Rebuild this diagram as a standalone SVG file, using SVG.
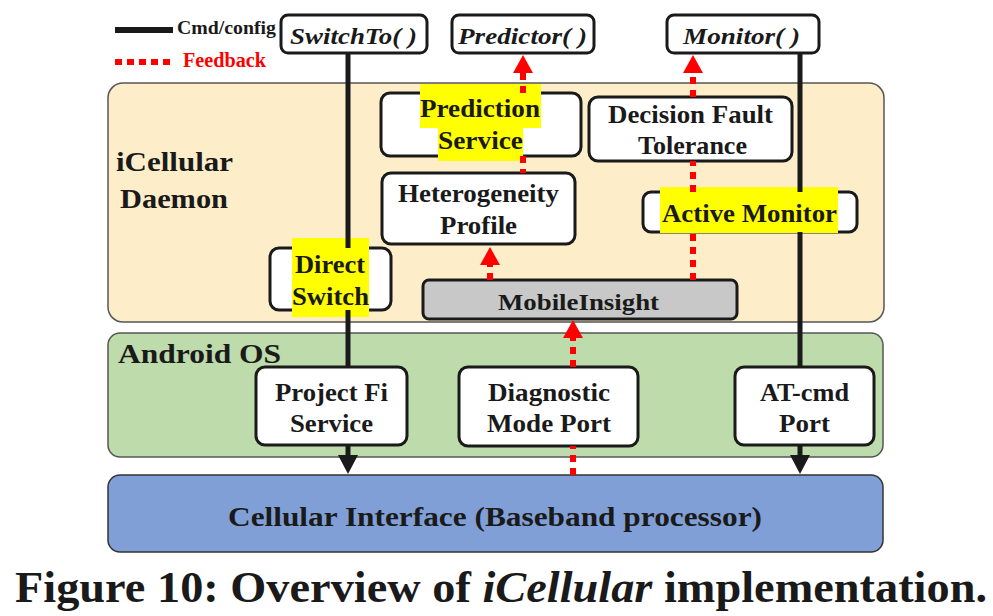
<svg xmlns="http://www.w3.org/2000/svg" width="993" height="616" viewBox="0 0 993 616">
<defs>
<style>
.t{font-family:'Liberation Serif','Times New Roman',Times,serif;font-weight:700;fill:#1a1a1a}
.ti{font-family:'Liberation Serif','Times New Roman',Times,serif;font-weight:700;font-style:italic;fill:#1a1a1a}
.lbl{font-size:25px}
.box{fill:#ffffff;stroke:#1a1a1a;stroke-width:3}
.hl{fill:#ffff00}
.cmd{fill:none;stroke:#1a1a1a;stroke-width:5}
.fb{fill:none;stroke:#ff0000;stroke-width:6;stroke-dasharray:7 6}
</style>
<marker id="ab" markerUnits="userSpaceOnUse" viewBox="0 0 19 20" markerWidth="19" markerHeight="20" refX="0" refY="10" orient="auto">
<path d="M0,0 L19,10 L0,20 Z" fill="#1a1a1a"/>
</marker>
<marker id="ar" markerUnits="userSpaceOnUse" viewBox="0 0 18 20" markerWidth="18" markerHeight="20" refX="0" refY="10" orient="auto">
<path d="M0,0 L18,10 L0,20 Z" fill="#ff0000"/>
</marker>
</defs>
<rect width="993" height="616" fill="#ffffff"/>

<g id="legend">
<line x1="115" y1="30" x2="173" y2="30" stroke="#1a1a1a" stroke-width="6"/>
<text class="t" x="177" y="34" font-size="18" textLength="99" lengthAdjust="spacingAndGlyphs">Cmd/config</text>
<line x1="115" y1="62" x2="173" y2="62" stroke="#ff0000" stroke-width="6" stroke-dasharray="7 5"/>
<text class="t" x="183" y="67" font-size="20" style="fill:#ff0000" textLength="83" lengthAdjust="spacingAndGlyphs">Feedback</text>
</g>

<g id="daemon-panel">
<rect x="108" y="83" width="776" height="239" rx="15" fill="#fdedc8" stroke="#555555" stroke-width="1.5"/>
<text class="t" x="116" y="171" font-size="28" textLength="117" lengthAdjust="spacingAndGlyphs">iCellular</text>
<text class="t" x="120" y="208" font-size="28" textLength="108" lengthAdjust="spacingAndGlyphs">Daemon</text>
</g>

<g id="android-panel">
<rect x="108" y="333" width="775" height="124" rx="12" fill="#bddbab" stroke="#555555" stroke-width="1.5"/>
<text class="t" x="118" y="363" font-size="27" textLength="163" lengthAdjust="spacingAndGlyphs">Android OS</text>
</g>

<g id="cellular-interface">
<rect x="108" y="475" width="775" height="77" rx="12" fill="#809fd6" stroke="#333333" stroke-width="1.5"/>
<text class="t" x="228" y="526" font-size="28" textLength="534" lengthAdjust="spacingAndGlyphs">Cellular Interface (Baseband processor)</text>
</g>

<g id="switchto">
<rect class="box" x="281" y="15" width="146" height="38" rx="7"/>
<text class="ti" x="290" y="44" font-size="24" textLength="127" lengthAdjust="spacingAndGlyphs">SwitchTo( )</text>
</g>
<g id="predictor">
<rect class="box" x="452" y="15" width="142" height="38" rx="7"/>
<text class="ti" x="458" y="44" font-size="24" textLength="129" lengthAdjust="spacingAndGlyphs">Predictor( )</text>
</g>
<g id="monitor">
<rect class="box" x="667" y="15" width="152" height="38" rx="7"/>
<text class="ti" x="683" y="44" font-size="24" textLength="117" lengthAdjust="spacingAndGlyphs">Monitor( )</text>
</g>

<g id="prediction-service">
<rect class="box" x="381" y="93" width="200" height="63" rx="9"/>
<rect class="hl" x="420" y="84" width="121" height="44"/>
<rect class="hl" x="438" y="128" width="85" height="33"/>
<text class="t lbl" x="420" y="117" textLength="120" lengthAdjust="spacingAndGlyphs">Prediction</text>
<text class="t lbl" x="438" y="149" textLength="85" lengthAdjust="spacingAndGlyphs">Service</text>
</g>

<g id="heterogeneity-profile">
<rect class="box" x="382" y="173" width="193" height="71" rx="9"/>
<text class="t lbl" x="398" y="202" textLength="161" lengthAdjust="spacingAndGlyphs">Heterogeneity</text>
<text class="t lbl" x="440" y="234" textLength="77" lengthAdjust="spacingAndGlyphs">Profile</text>
</g>

<g id="direct-switch">
<rect class="box" x="270" y="248" width="121" height="62" rx="9"/>
<rect class="hl" x="292" y="238" width="77" height="79"/>
<text class="t lbl" x="295" y="273" textLength="70" lengthAdjust="spacingAndGlyphs">Direct</text>
<text class="t lbl" x="292" y="305" textLength="77" lengthAdjust="spacingAndGlyphs">Switch</text>
</g>

<g id="mobileinsight">
<rect x="423" y="280" width="314" height="39" rx="6" fill="#c8c8c8" stroke="#1a1a1a" stroke-width="3"/>
<text class="t" x="498" y="310" font-size="24" textLength="161" lengthAdjust="spacingAndGlyphs">MobileInsight</text>
</g>

<g id="decision-fault-tolerance">
<rect class="box" x="589" y="97" width="203" height="64" rx="9"/>
<text class="t lbl" x="608" y="123" textLength="165" lengthAdjust="spacingAndGlyphs">Decision Fault</text>
<text class="t lbl" x="638" y="154" textLength="109" lengthAdjust="spacingAndGlyphs">Tolerance</text>
</g>

<g id="active-monitor">
<rect class="box" x="643" y="192" width="214" height="40" rx="8"/>
<rect class="hl" x="660" y="187" width="178" height="46"/>
<text class="t lbl" x="662" y="222" textLength="175" lengthAdjust="spacingAndGlyphs">Active Monitor</text>
</g>

<g id="project-fi-service">
<rect class="box" x="256" y="367" width="151" height="78" rx="9"/>
<text class="t lbl" x="275" y="401" textLength="113" lengthAdjust="spacingAndGlyphs">Project Fi</text>
<text class="t lbl" x="290" y="432" textLength="83" lengthAdjust="spacingAndGlyphs">Service</text>
</g>

<g id="diagnostic-mode-port">
<rect class="box" x="459" y="367" width="179" height="79" rx="9"/>
<text class="t lbl" x="488" y="401" textLength="122" lengthAdjust="spacingAndGlyphs">Diagnostic</text>
<text class="t lbl" x="487" y="432" textLength="124" lengthAdjust="spacingAndGlyphs">Mode Port</text>
</g>

<g id="at-cmd-port">
<rect class="box" x="735" y="367" width="139" height="78" rx="9"/>
<text class="t lbl" x="760" y="401" textLength="89" lengthAdjust="spacingAndGlyphs">AT-cmd</text>
<text class="t lbl" x="779" y="432" textLength="51" lengthAdjust="spacingAndGlyphs">Port</text>
</g>

<g id="connectors">
<path class="cmd" d="M348,53 L348,248"/>
<path class="cmd" d="M348,310 L348,367"/>
<path class="cmd" d="M348,445 L348,455" marker-end="url(#ab)"/>
<path class="cmd" d="M800,53 L800,192"/>
<path class="cmd" d="M800,232 L800,367"/>
<path class="cmd" d="M800,445 L800,455" marker-end="url(#ab)"/>
<path class="fb" d="M523,93 L523,73" marker-end="url(#ar)"/>
<path class="fb" d="M523,156 L523,173"/>
<path class="fb" d="M490,280 L490,265" marker-end="url(#ar)"/>
<path class="fb" d="M573,475 L573,446"/>
<path class="fb" d="M573,367 L573,338" marker-end="url(#ar)"/>
<path class="fb" d="M693,280 L693,232"/>
<path class="fb" d="M693,192 L693,161"/>
<path class="fb" d="M693,97 L693,73" marker-end="url(#ar)"/>
</g>

<g id="caption">
<text class="t" x="15" y="602" font-size="44" textLength="972" lengthAdjust="spacingAndGlyphs">Figure 10: Overview of <tspan style="font-style:italic">iCellular</tspan> implementation.</text>
</g>
</svg>
